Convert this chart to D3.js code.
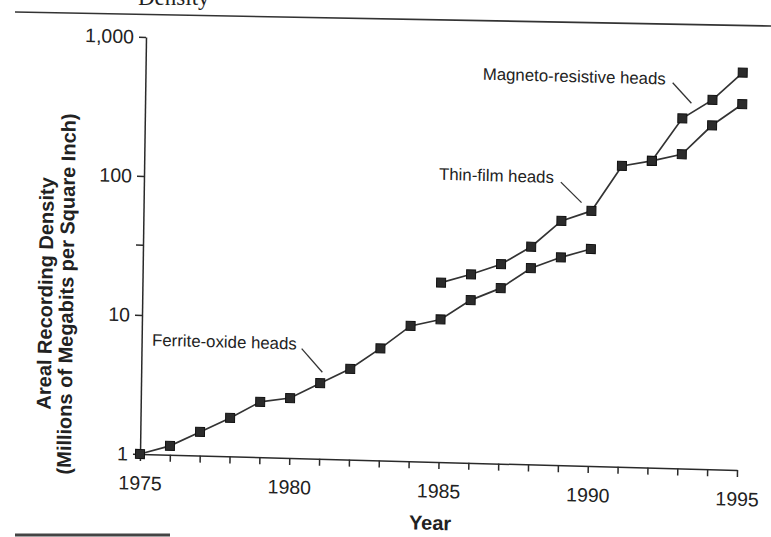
<!DOCTYPE html>
<html>
<head>
<meta charset="utf-8">
<script src="https://cdn.jsdelivr.net/npm/d3@7"></script>
<style>
  body { margin: 0; background: #fff; }
  text { font-family: "Liberation Sans", Arial, sans-serif; fill: #222; }
  .axis path, .axis line { stroke: #2a2a2a; stroke-width: 1.5; }
  .axis text { font-size: 19.5px; fill: #222; }
  .axisTitle { font-weight: bold; font-size: 20px; }
  .note { font-size: 16.8px; }
</style>
</head>
<body>
<div class="chart"></div>
<script>
// Areal recording density of disk heads, 1975-1995 (log scale)
let svgWidth = 771;
let svgHeight = 537;

// data
let ferriteYears = [1975, 1976, 1977, 1978, 1979, 1980, 1981, 1982, 1983, 1984, 1985, 1986, 1987, 1988, 1989, 1990];
let ferriteValues = [1.0, 1.16, 1.48, 1.89, 2.5, 2.7, 3.5, 4.5, 6.4, 9.4, 10.6, 14.8, 18.3, 25.8, 31.3, 36.4];

let thinFilmYears = [1985, 1986, 1987, 1988, 1989, 1990, 1991, 1992, 1993, 1994, 1995];
let thinFilmValues = [19.5, 22.7, 27.2, 36.8, 57.2, 68.4, 146, 161, 182, 298, 428];

let mrYears = [1992, 1993, 1994, 1995];
let mrValues = [161, 330, 454, 722];

let xTickYears = [1975, 1976, 1977, 1978, 1979, 1980, 1981, 1982, 1983, 1984, 1985,
  1986, 1987, 1988, 1989, 1990, 1991, 1992, 1993, 1994, 1995];
let xLabelYears = [1975, 1980, 1985, 1990, 1995];
let yTickValues = [1, 10, 32, 100, 1000];
let yTickLabels = ["1", "10", "", "100", "1,000"];

let seriesNames = ["Ferrite-oxide heads", "Thin-film heads", "Magneto-resistive heads"];

let series = [
  { name: seriesNames[0], pts: ferriteYears.map((yr, i) => ({ year: yr, value: ferriteValues[i] })) },
  { name: seriesNames[1], pts: thinFilmYears.map((yr, i) => ({ year: yr, value: thinFilmValues[i] })) },
  { name: seriesNames[2], pts: mrYears.map((yr, i) => ({ year: yr, value: mrValues[i] })) }
];

let svg = d3.select(".chart")
  .append("svg")
  .attr("width", svgWidth)
  .attr("height", svgHeight);

// bits of the page around the figure (caption is cut by the scan edge)
svg.append("text")
  .attr("x", 138)
  .attr("y", 5)
  .style("font-family", "'Liberation Serif', serif")
  .style("font-size", "23px")
  .text("Density");

svg.append("line")
  .attr("x1", 15).attr("y1", 12)
  .attr("x2", 771).attr("y2", 26)
  .attr("stroke", "#333")
  .attr("stroke-width", 1.6);

svg.append("line")
  .attr("x1", 15).attr("y1", 535)
  .attr("x2", 170).attr("y2", 535)
  .attr("stroke", "#444")
  .attr("stroke-width", 3);

// the scan is slightly skewed, so the plot group is too
let ox = 140, oy = 454;
let chartGroup = svg.append("g")
  .attr("transform", `translate(${ox},${oy}) matrix(1,0.0268,-0.0144,1,0,0) translate(${-ox},${-oy})`);

let xScale = d3.scaleLinear()
  .domain([1975, 1995])
  .range([140, 737]);

let yScale = d3.scaleLog()
  .domain([1, 1000])
  .range([454, 37]);

let bottomAxis = d3.axisBottom(xScale)
  .tickValues(xTickYears)
  .tickSize(7)
  .tickSizeOuter(0)
  .tickPadding(15)
  .tickFormat(d => xLabelYears.includes(d) ? d : "");

let leftAxis = d3.axisLeft(yScale)
  .tickValues(yTickValues)
  .tickSize(7)
  .tickSizeOuter(0)
  .tickPadding(5)
  .tickFormat((d, i) => yTickLabels[i]);

chartGroup.append("g")
  .attr("class", "axis")
  .attr("transform", `translate(0, ${yScale(1)})`)
  .call(bottomAxis);

chartGroup.append("g")
  .attr("class", "axis")
  .attr("transform", `translate(${xScale(1975)}, 0)`)
  .call(leftAxis);

// lines
let line = d3.line()
  .x(d => xScale(d.year))
  .y(d => yScale(d.value));

chartGroup.selectAll(".series")
  .data(series)
  .enter()
  .append("path")
  .attr("class", "series")
  .attr("d", d => line(d.pts))
  .attr("fill", "none")
  .attr("stroke", "#333")
  .attr("stroke-width", 1.7);

// square markers
let allPts = [];
series.forEach(s => s.pts.forEach(p => allPts.push(p)));

chartGroup.selectAll(".marker")
  .data(allPts)
  .enter()
  .append("rect")
  .attr("class", "marker")
  .attr("x", d => xScale(d.year) - 4.5)
  .attr("y", d => yScale(d.value) - 4.5)
  .attr("width", 9)
  .attr("height", 9)
  .attr("fill", "#2b2b2b")
  .attr("stroke", "#111")
  .attr("stroke-width", 1);

// callouts: anchored on a point of each series, offsets in px
let notes = [
  { text: seriesNames[0], year: 1981, value: ferriteValues[6], tx: -24, ty: -33, lx1: -19, ly1: -34, lx2: 2, ly2: -11 },
  { text: seriesNames[1], year: 1990, value: thinFilmValues[5], tx: -38, ty: -27, lx1: -31, ly1: -28, lx2: -10, ly2: -8 },
  { text: seriesNames[2], year: 1994, value: mrValues[2], tx: -47, ty: -14, lx1: -40, ly1: -16, lx2: -21, ly2: 4 }
];

notes.forEach(n => {
  let px = xScale(n.year), py = yScale(n.value);
  chartGroup.append("text")
    .attr("class", "note")
    .attr("x", px + n.tx)
    .attr("y", py + n.ty)
    .attr("text-anchor", "end")
    .text(n.text);
  chartGroup.append("line")
    .attr("x1", px + n.lx1).attr("y1", py + n.ly1)
    .attr("x2", px + n.lx2).attr("y2", py + n.ly2)
    .attr("stroke", "#333")
    .attr("stroke-width", 1.3);
});

// axis titles
chartGroup.append("text")
  .attr("class", "axisTitle")
  .attr("transform", "translate(50, 296) rotate(-90)")
  .attr("text-anchor", "middle")
  .text("Areal Recording Density");

chartGroup.append("text")
  .attr("class", "axisTitle")
  .attr("transform", "translate(71, 296) rotate(-90)")
  .attr("text-anchor", "middle")
  .text("(Millions of Megabits per Square Inch)");

chartGroup.append("text")
  .attr("class", "axisTitle")
  .attr("x", 431)
  .attr("y", 522)
  .attr("text-anchor", "middle")
  .text("Year");
</script>
</body>
</html>
